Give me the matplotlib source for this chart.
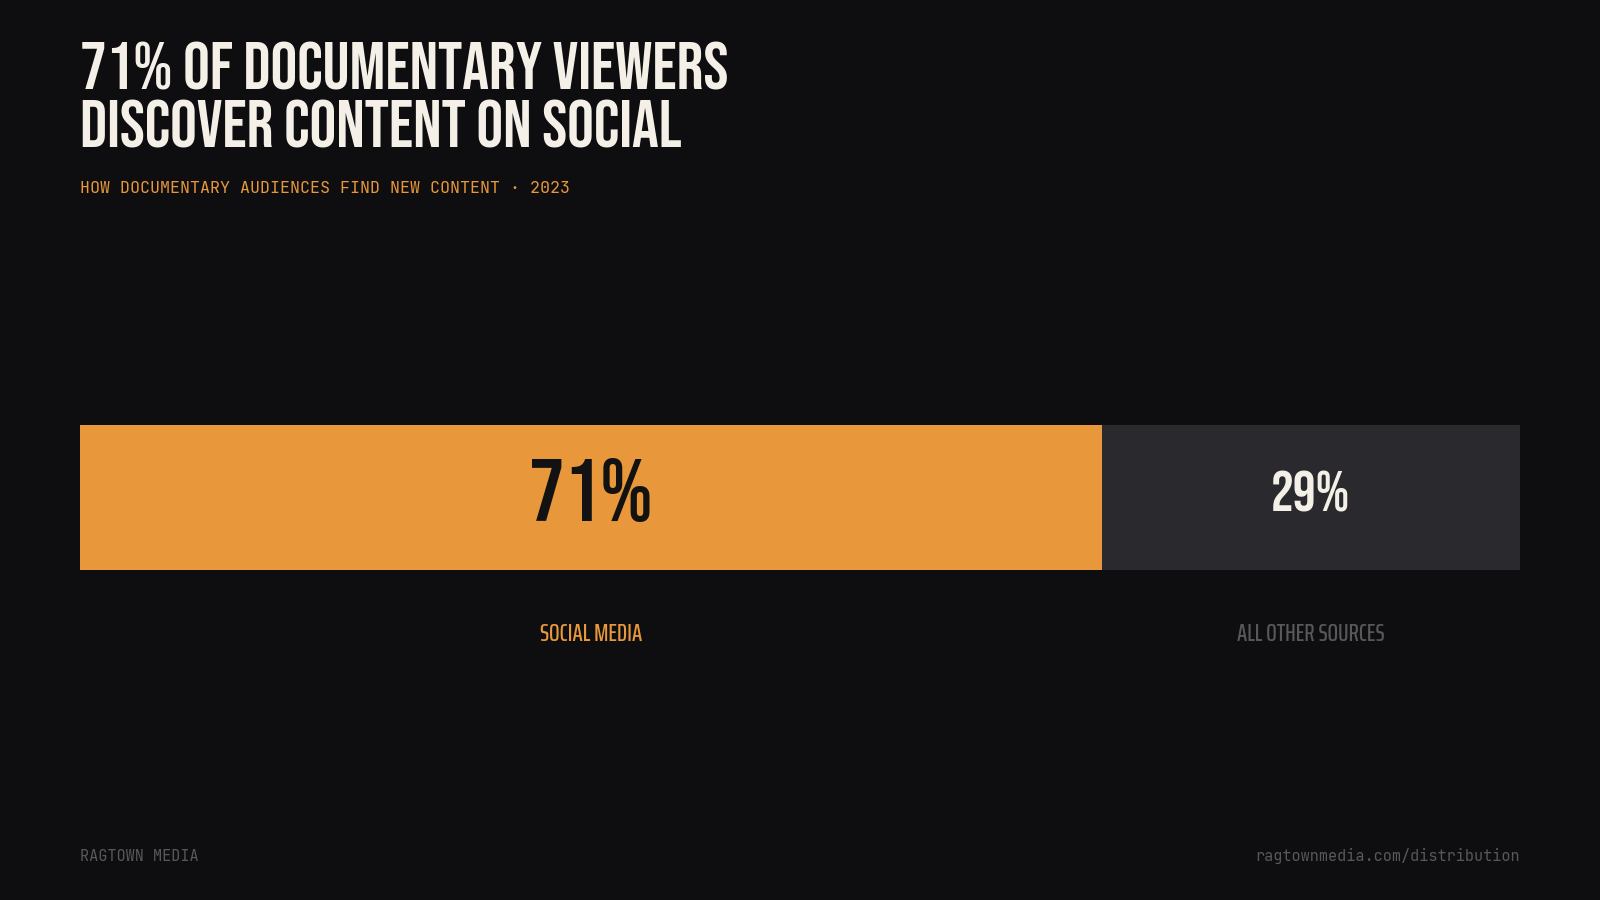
import matplotlib
matplotlib.use('Agg')
import matplotlib.pyplot as plt
from matplotlib.transforms import blended_transform_factory

# --- datos ---
categorias = ['SOCIAL MEDIA', 'ALL OTHER SOURCES']
valores = [71, 29]
etiquetas_valor = ['71%', '29%']
titulo = ['71% OF DOCUMENTARY VIEWERS', 'DISCOVER CONTENT ON SOCIAL']
subtitulo = 'HOW DOCUMENTARY AUDIENCES FIND NEW CONTENT · 2023'
pie_izq = 'RAGTOWN MEDIA'
pie_der = 'ragtownmedia.com/distribution'

# --- estilo ---
FONDO = '#0e0e10'
NARANJA = '#e8973a'
GRIS_BARRA = '#2a2a2e'
CREMA = '#f4f0e8'
GRIS_TXT = '#58585c'
DISPLAY = ['Bebas Neue', 'DejaVu Sans']
ESTRECHA = ['Saira ExtraCondensed', 'DejaVu Sans']
MONO = ['JetBrains Mono', 'DejaVu Sans Mono']

colores_barra = [NARANJA, GRIS_BARRA]
colores_valor = ['#121212', CREMA]
tam_valor = [64, 41]
base_valor = [0.4210, 0.4315]
colores_cat = [NARANJA, GRIS_TXT]

IZQ = 0.0498
DER = 0.9497

fig = plt.figure(figsize=(16, 9), dpi=100, facecolor=FONDO)

# titulo y subtitulo
for linea, y in zip(titulo, [0.901, 0.8365]):
    fig.text(IZQ, y, linea, ha='left', va='baseline', color=CREMA,
             family=DISPLAY, fontsize=48)
fig.text(IZQ, 0.7857, subtitulo, ha='left', va='baseline', color=NARANJA,
         family=MONO, fontsize=12)

# barra apilada
ax = fig.add_axes([IZQ, 0.367, DER - IZQ, 0.161])
ax.set_facecolor(FONDO)
trans = blended_transform_factory(ax.transData, fig.transFigure)
izq = 0
for val, col, txt, ctxt, tam, yb, cat, ccat in zip(valores, colores_barra, etiquetas_valor,
                                                   colores_valor, tam_valor, base_valor,
                                                   categorias, colores_cat):
    ax.barh(0, val, left=izq, height=1, color=col, edgecolor='none')
    centro = izq + val / 2
    ax.text(centro, yb, txt, ha='center', va='baseline', color=ctxt,
            family=DISPLAY, fontsize=tam, transform=trans)
    ax.text(centro, 0.2880, cat, ha='center', va='baseline', color=ccat,
            family=ESTRECHA, weight=500, fontsize=17.8, transform=trans)
    izq += val
ax.set_xlim(0, 100)
ax.set_ylim(-0.5, 0.5)
ax.axis('off')

# pie
fig.text(IZQ, 0.043, pie_izq, ha='left', va='baseline', color=GRIS_TXT,
         family=MONO, fontsize=11)
fig.text(DER, 0.043, pie_der, ha='right', va='baseline', color=GRIS_TXT,
         family=MONO, fontsize=11)

fig.savefig('out.png', dpi=100, facecolor=FONDO)
